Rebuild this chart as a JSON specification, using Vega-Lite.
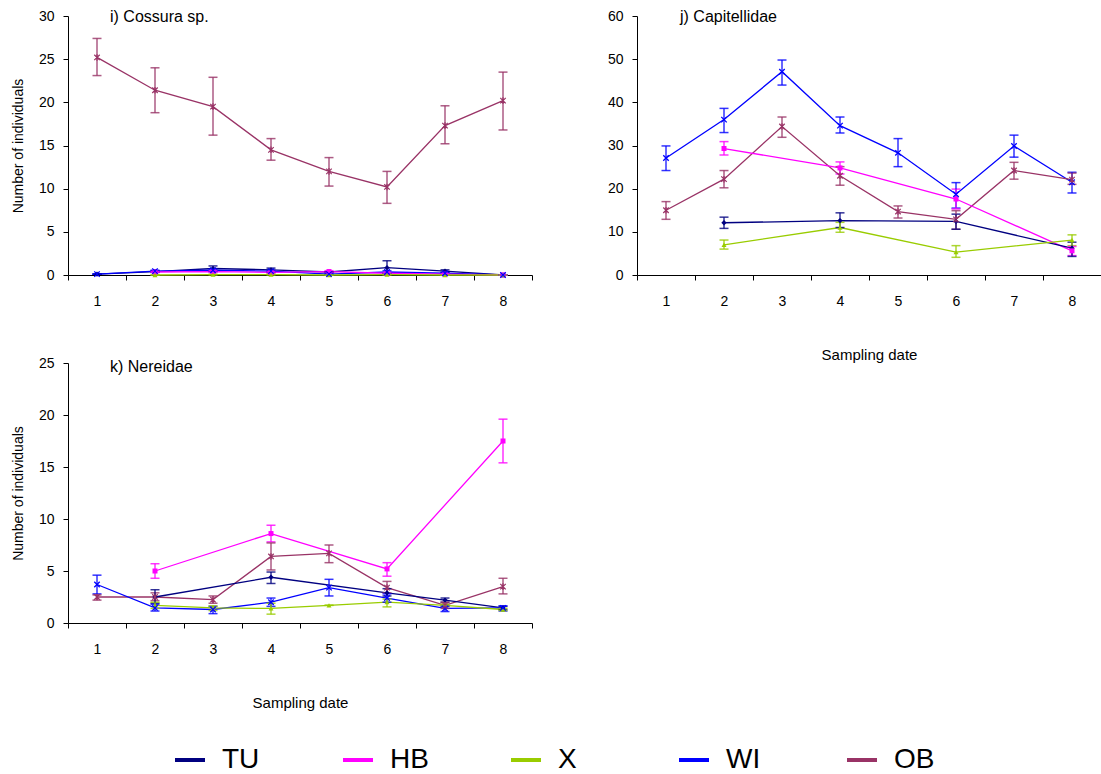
{
  "$schema": "https://vega.github.io/schema/vega-lite/v6.json",
  "padding": {"left": 11, "top": 9, "right": 0, "bottom": 0},
  "background": "white",
  "config": {
    "view": {"stroke": null},
    "font": "Liberation Sans",
    "axis": {"grid": false, "domainColor": "#000000", "tickColor": "#000000", "labelColor": "#000000", "titleColor": "#000000", "labelFontSize": 14, "titleFontWeight": "normal", "tickSize": 5},
    "axisX": {"tickBand": "extent", "labelAngle": 0, "labelPadding": 14, "titleFontSize": 15, "titlePadding": 39},
    "axisY": {"labelPadding": 9, "titleFontSize": 14, "titlePadding": 13},
    "title": {"fontSize": 16, "fontWeight": "normal", "anchor": "start", "frame": "group", "baseline": "alphabetic", "color": "#000000"}
  },
  "datasets": {
    "d": [
      {"p": "i", "d": 1, "s": "OB", "m": 25.2, "lo": 23.1, "hi": 27.4},
      {"p": "i", "d": 2, "s": "OB", "m": 21.4, "lo": 18.8, "hi": 24.0},
      {"p": "i", "d": 3, "s": "OB", "m": 19.5, "lo": 16.2, "hi": 22.9},
      {"p": "i", "d": 4, "s": "OB", "m": 14.5, "lo": 13.3, "hi": 15.8},
      {"p": "i", "d": 5, "s": "OB", "m": 12.0, "lo": 10.3, "hi": 13.6},
      {"p": "i", "d": 6, "s": "OB", "m": 10.2, "lo": 8.3, "hi": 12.0},
      {"p": "i", "d": 7, "s": "OB", "m": 17.3, "lo": 15.2, "hi": 19.6},
      {"p": "i", "d": 8, "s": "OB", "m": 20.2, "lo": 16.8, "hi": 23.5},
      {"p": "i", "d": 1, "s": "TU", "m": 0.1, "lo": 0.1, "hi": 0.1},
      {"p": "i", "d": 2, "s": "TU", "m": 0.4, "lo": 0.3, "hi": 0.5},
      {"p": "i", "d": 3, "s": "TU", "m": 0.75, "lo": 0.5, "hi": 1.05},
      {"p": "i", "d": 4, "s": "TU", "m": 0.6, "lo": 0.4, "hi": 0.8},
      {"p": "i", "d": 5, "s": "TU", "m": 0.35, "lo": 0.3, "hi": 0.4},
      {"p": "i", "d": 6, "s": "TU", "m": 0.85, "lo": 0.2, "hi": 1.65},
      {"p": "i", "d": 7, "s": "TU", "m": 0.45, "lo": 0.3, "hi": 0.6},
      {"p": "i", "d": 8, "s": "TU", "m": 0.0, "lo": 0.0, "hi": 0.0},
      {"p": "i", "d": 1, "s": "WI", "m": 0.1, "lo": 0.1, "hi": 0.1},
      {"p": "i", "d": 2, "s": "WI", "m": 0.45, "lo": 0.35, "hi": 0.55},
      {"p": "i", "d": 3, "s": "WI", "m": 0.55, "lo": 0.4, "hi": 0.7},
      {"p": "i", "d": 4, "s": "WI", "m": 0.45, "lo": 0.35, "hi": 0.55},
      {"p": "i", "d": 5, "s": "WI", "m": 0.1, "lo": 0.05, "hi": 0.15},
      {"p": "i", "d": 6, "s": "WI", "m": 0.35, "lo": 0.2, "hi": 0.5},
      {"p": "i", "d": 7, "s": "WI", "m": 0.2, "lo": 0.1, "hi": 0.3},
      {"p": "i", "d": 8, "s": "WI", "m": 0.0, "lo": 0.0, "hi": 0.0},
      {"p": "i", "d": 2, "s": "HB", "m": 0.35, "lo": 0.3, "hi": 0.4},
      {"p": "i", "d": 3, "s": "HB", "m": 0.4, "lo": 0.3, "hi": 0.5},
      {"p": "i", "d": 4, "s": "HB", "m": 0.3, "lo": 0.2, "hi": 0.4},
      {"p": "i", "d": 5, "s": "HB", "m": 0.4, "lo": 0.3, "hi": 0.5},
      {"p": "i", "d": 6, "s": "HB", "m": 0.2, "lo": 0.1, "hi": 0.3},
      {"p": "i", "d": 7, "s": "HB", "m": 0.1, "lo": 0.05, "hi": 0.15},
      {"p": "i", "d": 8, "s": "HB", "m": 0.0, "lo": 0.0, "hi": 0.0},
      {"p": "i", "d": 2, "s": "X", "m": 0.0, "lo": 0.0, "hi": 0.0},
      {"p": "i", "d": 3, "s": "X", "m": 0.05, "lo": 0.0, "hi": 0.1},
      {"p": "i", "d": 4, "s": "X", "m": 0.05, "lo": 0.0, "hi": 0.1},
      {"p": "i", "d": 5, "s": "X", "m": 0.0, "lo": 0.0, "hi": 0.0},
      {"p": "i", "d": 6, "s": "X", "m": 0.05, "lo": 0.0, "hi": 0.1},
      {"p": "i", "d": 7, "s": "X", "m": 0.0, "lo": 0.0, "hi": 0.0},
      {"p": "i", "d": 8, "s": "X", "m": 0.0, "lo": 0.0, "hi": 0.0},

      {"p": "j", "d": 1, "s": "WI", "m": 27.1, "lo": 24.2, "hi": 29.9},
      {"p": "j", "d": 2, "s": "WI", "m": 36.0, "lo": 33.0, "hi": 38.6},
      {"p": "j", "d": 3, "s": "WI", "m": 47.1, "lo": 44.0, "hi": 49.8},
      {"p": "j", "d": 4, "s": "WI", "m": 34.6, "lo": 32.9, "hi": 36.6},
      {"p": "j", "d": 5, "s": "WI", "m": 28.3, "lo": 25.1, "hi": 31.6},
      {"p": "j", "d": 6, "s": "WI", "m": 18.7, "lo": 15.5, "hi": 21.4},
      {"p": "j", "d": 7, "s": "WI", "m": 29.9, "lo": 27.3, "hi": 32.4},
      {"p": "j", "d": 8, "s": "WI", "m": 21.5, "lo": 19.0, "hi": 23.8},
      {"p": "j", "d": 1, "s": "OB", "m": 15.0, "lo": 12.9, "hi": 17.0},
      {"p": "j", "d": 2, "s": "OB", "m": 22.2, "lo": 20.2, "hi": 24.2},
      {"p": "j", "d": 3, "s": "OB", "m": 34.4, "lo": 31.9, "hi": 36.6},
      {"p": "j", "d": 4, "s": "OB", "m": 23.0, "lo": 20.8, "hi": 25.1},
      {"p": "j", "d": 5, "s": "OB", "m": 14.7, "lo": 13.2, "hi": 16.0},
      {"p": "j", "d": 6, "s": "OB", "m": 12.9, "lo": 10.6, "hi": 14.9},
      {"p": "j", "d": 7, "s": "OB", "m": 24.2, "lo": 22.2, "hi": 26.1},
      {"p": "j", "d": 8, "s": "OB", "m": 22.1, "lo": 21.0, "hi": 23.6},
      {"p": "j", "d": 2, "s": "HB", "m": 29.3, "lo": 27.8, "hi": 30.9},
      {"p": "j", "d": 4, "s": "HB", "m": 24.8, "lo": 23.4, "hi": 26.2},
      {"p": "j", "d": 6, "s": "HB", "m": 17.6, "lo": 15.3, "hi": 19.9},
      {"p": "j", "d": 8, "s": "HB", "m": 5.6, "lo": 4.5, "hi": 6.6},
      {"p": "j", "d": 2, "s": "TU", "m": 12.1, "lo": 10.8, "hi": 13.4},
      {"p": "j", "d": 4, "s": "TU", "m": 12.6, "lo": 11.0, "hi": 14.4},
      {"p": "j", "d": 6, "s": "TU", "m": 12.4, "lo": 10.6, "hi": 14.1},
      {"p": "j", "d": 8, "s": "TU", "m": 6.2, "lo": 4.3, "hi": 7.6},
      {"p": "j", "d": 2, "s": "X", "m": 7.0, "lo": 6.0, "hi": 8.1},
      {"p": "j", "d": 4, "s": "X", "m": 11.0, "lo": 9.9, "hi": 12.2},
      {"p": "j", "d": 6, "s": "X", "m": 5.3, "lo": 4.1, "hi": 6.8},
      {"p": "j", "d": 8, "s": "X", "m": 8.1, "lo": 6.8, "hi": 9.3},

      {"p": "k", "d": 2, "s": "HB", "m": 5.0, "lo": 4.3, "hi": 5.7},
      {"p": "k", "d": 4, "s": "HB", "m": 8.6, "lo": 7.8, "hi": 9.4},
      {"p": "k", "d": 6, "s": "HB", "m": 5.2, "lo": 4.5, "hi": 5.8},
      {"p": "k", "d": 8, "s": "HB", "m": 17.5, "lo": 15.4, "hi": 19.6},
      {"p": "k", "d": 1, "s": "OB", "m": 2.5, "lo": 2.2, "hi": 2.7},
      {"p": "k", "d": 2, "s": "OB", "m": 2.5, "lo": 2.15, "hi": 2.9},
      {"p": "k", "d": 3, "s": "OB", "m": 2.25, "lo": 1.9, "hi": 2.6},
      {"p": "k", "d": 4, "s": "OB", "m": 6.4, "lo": 5.1, "hi": 7.7},
      {"p": "k", "d": 5, "s": "OB", "m": 6.7, "lo": 5.8, "hi": 7.5},
      {"p": "k", "d": 6, "s": "OB", "m": 3.4, "lo": 2.9, "hi": 4.0},
      {"p": "k", "d": 7, "s": "OB", "m": 1.7, "lo": 1.4, "hi": 2.0},
      {"p": "k", "d": 8, "s": "OB", "m": 3.5, "lo": 2.8, "hi": 4.3},
      {"p": "k", "d": 2, "s": "TU", "m": 2.5, "lo": 1.9, "hi": 3.2},
      {"p": "k", "d": 4, "s": "TU", "m": 4.4, "lo": 3.8, "hi": 4.9},
      {"p": "k", "d": 6, "s": "TU", "m": 2.9, "lo": 2.6, "hi": 3.3},
      {"p": "k", "d": 7, "s": "TU", "m": 2.2, "lo": 2.0, "hi": 2.4},
      {"p": "k", "d": 8, "s": "TU", "m": 1.45, "lo": 1.3, "hi": 1.6},
      {"p": "k", "d": 1, "s": "WI", "m": 3.7, "lo": 2.8, "hi": 4.6},
      {"p": "k", "d": 2, "s": "WI", "m": 1.45, "lo": 1.15, "hi": 1.8},
      {"p": "k", "d": 3, "s": "WI", "m": 1.3, "lo": 0.9, "hi": 1.6},
      {"p": "k", "d": 4, "s": "WI", "m": 2.0, "lo": 1.6, "hi": 2.4},
      {"p": "k", "d": 5, "s": "WI", "m": 3.4, "lo": 2.6, "hi": 4.2},
      {"p": "k", "d": 6, "s": "WI", "m": 2.4, "lo": 2.0, "hi": 2.8},
      {"p": "k", "d": 7, "s": "WI", "m": 1.4, "lo": 1.1, "hi": 1.6},
      {"p": "k", "d": 8, "s": "WI", "m": 1.45, "lo": 1.15, "hi": 1.65},
      {"p": "k", "d": 2, "s": "X", "m": 1.7, "lo": 1.4, "hi": 2.0},
      {"p": "k", "d": 3, "s": "X", "m": 1.45, "lo": 1.2, "hi": 1.65},
      {"p": "k", "d": 4, "s": "X", "m": 1.4, "lo": 0.85, "hi": 1.9},
      {"p": "k", "d": 5, "s": "X", "m": 1.7, "lo": 1.7, "hi": 1.7},
      {"p": "k", "d": 6, "s": "X", "m": 2.0, "lo": 1.55, "hi": 2.3},
      {"p": "k", "d": 7, "s": "X", "m": 1.7, "lo": 1.6, "hi": 1.8},
      {"p": "k", "d": 8, "s": "X", "m": 1.3, "lo": 1.2, "hi": 1.4}
    ]
  },
  "bounds": "flush",
  "columns": 2,
  "spacing": {"row": 88, "column": 105},
  "concat": [
    {
      "width": 464, "height": 259,
      "title": {"text": "i) Cossura sp.", "dx": 42, "offset": -16},
      "data": {"name": "d"},
      "transform": [{"filter": "datum.p === 'i'"}],
      "encoding": {
        "x": {"field": "d", "type": "ordinal", "bandPosition": 0.5, "scale": {"type": "band", "paddingInner": 0, "paddingOuter": 0}, "axis": {"title": null}},
        "y": {"field": "m", "type": "quantitative", "scale": {"domain": [0, 30], "nice": false}, "axis": {"values": [0, 5, 10, 15, 20, 25, 30]}, "title": "Number of individuals"},
        "color": {"field": "s", "type": "nominal", "scale": {"domain": ["TU", "HB", "X", "WI", "OB"], "range": ["#000080", "#FF00FF", "#99CC00", "#0000FF", "#993366"]}, "legend": null}
      },
      "layer": [
        {"mark": {"type": "line", "strokeWidth": 1.3},
         "encoding": {
           "color": {"field": "s", "type": "nominal",
             "legend": {"orient": "none", "legendX": 105, "legendY": 727, "direction": "horizontal", "columns": 5, "title": null, "symbolType": "stroke", "symbolStrokeWidth": 4, "symbolSize": 900, "labelFontSize": 28, "labelColor": "#000000", "gridAlign": "all", "columnPadding": 72, "labelOffset": 15, "padding": 0}}
         }},
        {"mark": {"type": "errorbar", "ticks": {"size": 9}, "thickness": 1.5, "opacity": 0.8},
         "encoding": {"y": {"field": "lo", "type": "quantitative", "title": "Number of individuals"}, "y2": {"field": "hi"}}},
        {"transform": [{"filter": "datum.s === 'TU'"}], "mark": {"type": "point", "shape": "diamond", "filled": true, "opacity": 1, "size": 28}},
        {"transform": [{"filter": "datum.s === 'HB'"}], "mark": {"type": "point", "shape": "square", "filled": true, "opacity": 1, "size": 25}},
        {"transform": [{"filter": "datum.s === 'X'"}], "mark": {"type": "point", "shape": "triangle-up", "filled": true, "opacity": 1, "size": 25}},
        {"transform": [{"filter": "datum.s === 'WI'"}], "mark": {"type": "point", "shape": "M-1,-1L1,1M-1,1L1,-1", "filled": false, "opacity": 1, "size": 30, "strokeWidth": 1.3}},
        {"transform": [{"filter": "datum.s === 'OB'"}], "mark": {"type": "point", "shape": "M-1,-1L1,1M-1,1L1,-1M0,-1.2L0,1.2", "filled": false, "opacity": 1, "size": 30, "strokeWidth": 1.2}}
      ]
    },
    {
      "width": 464, "height": 259,
      "title": {"text": "j) Capitellidae", "dx": 43, "offset": -16},
      "data": {"name": "d"},
      "transform": [{"filter": "datum.p === 'j'"}],
      "encoding": {
        "x": {"field": "d", "type": "ordinal", "bandPosition": 0.5, "scale": {"type": "band", "paddingInner": 0, "paddingOuter": 0}, "axis": {"title": "Sampling date"}},
        "y": {"field": "m", "type": "quantitative", "scale": {"domain": [0, 60], "nice": false}, "axis": {"values": [0, 10, 20, 30, 40, 50, 60]}, "title": null},
        "color": {"field": "s", "type": "nominal", "legend": null}
      },
      "layer": [
        {"mark": {"type": "line", "strokeWidth": 1.3}},
        {"mark": {"type": "errorbar", "ticks": {"size": 9}, "thickness": 1.5, "opacity": 0.8},
         "encoding": {"y": {"field": "lo", "type": "quantitative", "title": null}, "y2": {"field": "hi"}}},
        {"transform": [{"filter": "datum.s === 'TU'"}], "mark": {"type": "point", "shape": "diamond", "filled": true, "opacity": 1, "size": 28}},
        {"transform": [{"filter": "datum.s === 'HB'"}], "mark": {"type": "point", "shape": "square", "filled": true, "opacity": 1, "size": 25}},
        {"transform": [{"filter": "datum.s === 'X'"}], "mark": {"type": "point", "shape": "triangle-up", "filled": true, "opacity": 1, "size": 25}},
        {"transform": [{"filter": "datum.s === 'WI'"}], "mark": {"type": "point", "shape": "M-1,-1L1,1M-1,1L1,-1", "filled": false, "opacity": 1, "size": 30, "strokeWidth": 1.3}},
        {"transform": [{"filter": "datum.s === 'OB'"}], "mark": {"type": "point", "shape": "M-1,-1L1,1M-1,1L1,-1M0,-1.2L0,1.2", "filled": false, "opacity": 1, "size": 30, "strokeWidth": 1.2}}
      ]
    },
    {
      "width": 464, "height": 260,
      "title": {"text": "k) Nereidae", "dx": 42, "offset": -19},
      "data": {"name": "d"},
      "transform": [{"filter": "datum.p === 'k'"}],
      "encoding": {
        "x": {"field": "d", "type": "ordinal", "bandPosition": 0.5, "scale": {"type": "band", "paddingInner": 0, "paddingOuter": 0}, "axis": {"title": "Sampling date"}},
        "y": {"field": "m", "type": "quantitative", "scale": {"domain": [0, 25], "nice": false}, "axis": {"values": [0, 5, 10, 15, 20, 25]}, "title": "Number of individuals"},
        "color": {"field": "s", "type": "nominal", "legend": null}
      },
      "layer": [
        {"mark": {"type": "line", "strokeWidth": 1.3}},
        {"mark": {"type": "errorbar", "ticks": {"size": 9}, "thickness": 1.5, "opacity": 0.8},
         "encoding": {"y": {"field": "lo", "type": "quantitative", "title": "Number of individuals"}, "y2": {"field": "hi"}}},
        {"transform": [{"filter": "datum.s === 'TU'"}], "mark": {"type": "point", "shape": "diamond", "filled": true, "opacity": 1, "size": 28}},
        {"transform": [{"filter": "datum.s === 'HB'"}], "mark": {"type": "point", "shape": "square", "filled": true, "opacity": 1, "size": 25}},
        {"transform": [{"filter": "datum.s === 'X'"}], "mark": {"type": "point", "shape": "triangle-up", "filled": true, "opacity": 1, "size": 25}},
        {"transform": [{"filter": "datum.s === 'WI'"}], "mark": {"type": "point", "shape": "M-1,-1L1,1M-1,1L1,-1", "filled": false, "opacity": 1, "size": 30, "strokeWidth": 1.3}},
        {"transform": [{"filter": "datum.s === 'OB'"}], "mark": {"type": "point", "shape": "M-1,-1L1,1M-1,1L1,-1M0,-1.2L0,1.2", "filled": false, "opacity": 1, "size": 30, "strokeWidth": 1.2}}
      ]
    }
  ]
}
